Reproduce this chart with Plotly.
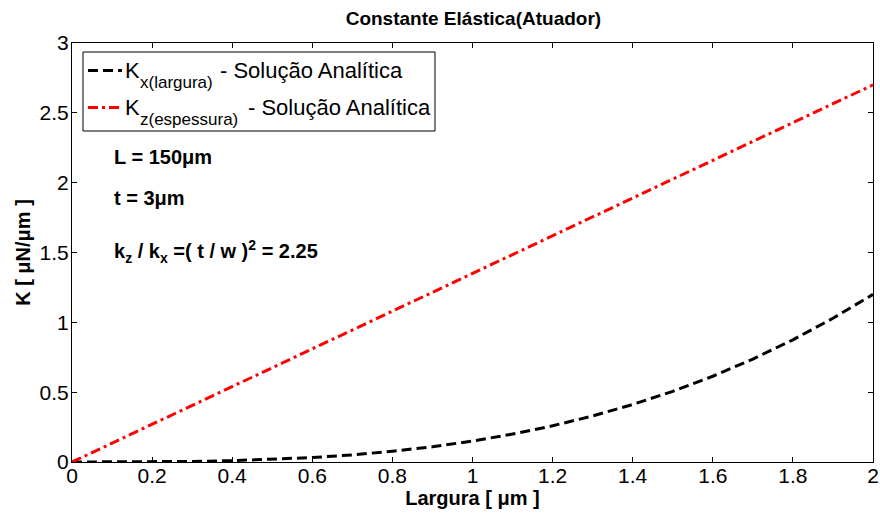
import plotly.graph_objects as go

# Largura (µm) and spring constants (µN/µm)
largura = [0.0, 0.1, 0.2, 0.3, 0.4, 0.5, 0.6, 0.7, 0.8, 0.9, 1.0,
           1.1, 1.2, 1.3, 1.4, 1.5, 1.6, 1.7, 1.8, 1.9, 2.0]
k_x = [0.0, 0.0002, 0.0012, 0.004, 0.0096, 0.019, 0.032, 0.051, 0.077, 0.109, 0.15,
       0.200, 0.259, 0.330, 0.412, 0.506, 0.614, 0.737, 0.875, 1.029, 1.2]
k_z = [0.0, 0.135, 0.27, 0.405, 0.54, 0.675, 0.81, 0.945, 1.08, 1.215, 1.35,
       1.485, 1.62, 1.755, 1.89, 2.025, 2.16, 2.295, 2.43, 2.565, 2.7]

x_ticks = [0, 0.2, 0.4, 0.6, 0.8, 1, 1.2, 1.4, 1.6, 1.8, 2]
y_ticks = [0, 0.5, 1, 1.5, 2, 2.5, 3]

series_sub = ["x(largura)", "z(espessura)"]
series_colors = ["black", "red"]
series_dash = ["10px,5px", "10px,4px,3px,4px"]

FONT = "Liberation Sans, Arial, sans-serif"

W, H = 880, 514
ML, MR, MT, MB = 72, 7, 43, 52
PW, PH = W - ML - MR, H - MT - MB


def px(x):
    return (x - ML) / PW


def py(y):
    return (H - MB - y) / PH


fig = go.Figure()
for sub, yv, col, dash in zip(series_sub, [k_x, k_z], series_colors, series_dash):
    fig.add_trace(go.Scatter(
        x=largura, y=yv, mode="lines", name=f"K {sub} - Solução Analítica",
        line=dict(color=col, width=3, dash=dash), showlegend=False,
    ))

# legend box drawn by hand so the subscripts keep their size
fig.add_shape(type="rect", xref="paper", yref="paper",
              x0=px(83), x1=px(435), y0=py(131), y1=py(52),
              line=dict(color="black", width=1), fillcolor="white", layer="above")
rows = [
    dict(yc=70.5, ysub=82, line_x1=122, rest_x=219),
    dict(yc=107.5, ysub=119, line_x1=121, rest_x=247),
]
for r, sub, col, dash in zip(rows, series_sub, series_colors, series_dash):
    fig.add_shape(type="line", xref="paper", yref="paper",
                  x0=px(88), x1=px(r["line_x1"]), y0=py(r["yc"]), y1=py(r["yc"]),
                  line=dict(color=col, width=3, dash=dash), layer="above")
    for text, x, y, size in [("K", 124, r["yc"], 22),
                             (sub, 139, r["ysub"], 17),
                             ("- Solução Analítica", r["rest_x"], r["yc"], 22)]:
        fig.add_annotation(xref="paper", yref="paper", x=px(x), y=py(y),
                           xanchor="left", yanchor="middle", showarrow=False,
                           borderpad=0, text=text,
                           font=dict(size=size, color="black", family=FONT))

annotations = [
    dict(text="<b>L = 150μm</b>", x=0.1, y=2.184),
    dict(text="<b>t = 3μm</b>", x=0.1, y=1.89),
    dict(text="<b>k<sub>z</sub> / k<sub>x</sub> =( t / w )<sup>2</sup> = 2.25</b>", x=0.1, y=1.51),
]
for a in annotations:
    fig.add_annotation(xref="x", yref="y", xanchor="left", yanchor="middle",
                       showarrow=False, font=dict(size=20, color="black", family=FONT), **a)

axis_common = dict(
    showline=True, linecolor="black", linewidth=1, mirror="allticks",
    ticks="inside", ticklen=5, tickcolor="black", tickwidth=1,
    showgrid=False, zeroline=False, automargin=False,
    tickfont=dict(size=21, color="black", family=FONT),
)

fig.update_layout(
    width=W, height=H,
    margin=dict(l=ML, r=MR, t=MT, b=MB),
    paper_bgcolor="white", plot_bgcolor="white",
    font=dict(family=FONT, color="black"),
    title=dict(text="<b>Constante Elástica(Atuador)</b>", x=0.538, xanchor="center",
               y=0.965, yanchor="middle", font=dict(size=19, family=FONT, color="black")),
    xaxis=dict(range=[0, 2], tickvals=x_ticks, ticktext=[f"{v:g}" for v in x_ticks],
               ticklabelstandoff=-5,
               title=dict(text="<b>Largura [ μm ]</b>", standoff=0,
                          font=dict(size=20, family=FONT, color="black")),
               **axis_common),
    yaxis=dict(range=[0, 3], tickvals=y_ticks, ticktext=[f"{v:g}" for v in y_ticks],
               ticklabelstandoff=-2,
               title=dict(text="<b>K [ μN/μm ]</b>", standoff=3,
                          font=dict(size=20, family=FONT, color="black")),
               **axis_common),
    showlegend=False,
)

fig.write_html("out.html")
